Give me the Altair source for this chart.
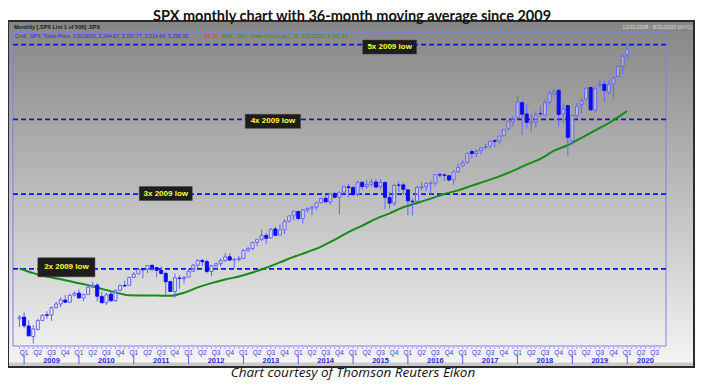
import altair as alt
import pandas as pd

# ---------------- data ----------------
opens = [888.61,
    902.99, 823.09, 729.57, 793.59, 872.74, 923.26, 920.82, 990.22, 1019.52, 1054.91, 1036.18, 1098.89,
    1116.56, 1073.89, 1105.36, 1171.23, 1188.58, 1087.30, 1031.10, 1107.53, 1049.72, 1143.49, 1185.71, 1186.60,
    1257.62, 1289.14, 1328.64, 1329.48, 1365.21, 1345.20, 1320.64, 1292.59, 1219.12, 1131.21, 1251.00, 1246.91,
    1258.86, 1312.45, 1365.90, 1408.47, 1397.86, 1309.87, 1362.33, 1379.32, 1406.54, 1440.90, 1412.20, 1416.18,
    1426.19, 1498.11, 1514.68, 1569.18, 1597.55, 1631.71, 1609.78, 1689.42, 1635.95, 1682.41, 1758.70, 1806.55,
    1845.86, 1782.68, 1857.68, 1873.96, 1884.39, 1923.87, 1962.29, 1929.80, 2004.07, 1971.44, 2018.21, 2065.78,
    2058.90, 1996.67, 2105.23, 2067.63, 2087.38, 2108.64, 2067.00, 2104.49, 1970.09, 1919.65, 2080.76, 2082.93,
    2038.20, 1936.94, 1937.09, 2056.62, 2067.17, 2093.94, 2099.34, 2173.15, 2171.33, 2164.33, 2128.68, 2200.17,
    2251.57, 2285.59, 2380.13, 2362.34, 2388.50, 2415.65, 2431.39, 2477.10, 2474.42, 2521.20, 2583.21, 2645.10,
    2683.73, 2816.45, 2715.22, 2633.45, 2642.96, 2718.70, 2704.95, 2821.17, 2896.96, 2926.29, 2717.58, 2790.50,
    2476.96, 2702.32, 2798.22, 2848.63, 2952.33, 2751.53, 2971.41, 2980.32, 2909.01, 2983.69, 3050.72, 3143.85,
    3244.67]
highs = [918.85,
    943.85, 875.01, 832.98, 888.70, 930.17, 956.23, 996.68, 1039.47, 1080.15, 1101.36, 1113.69, 1130.38,
    1150.45, 1112.42, 1180.69, 1219.80, 1205.13, 1131.23, 1120.95, 1129.24, 1148.90, 1196.14, 1227.08, 1262.60,
    1302.67, 1344.07, 1332.28, 1364.56, 1370.58, 1345.20, 1356.48, 1307.38, 1229.29, 1292.66, 1277.55, 1269.37,
    1333.47, 1378.04, 1419.15, 1422.38, 1415.32, 1363.46, 1391.74, 1426.68, 1474.51, 1470.96, 1434.27, 1448.00,
    1509.94, 1530.94, 1570.28, 1597.57, 1687.18, 1654.19, 1698.78, 1709.67, 1729.86, 1775.22, 1813.55, 1849.44,
    1850.84, 1867.92, 1883.97, 1897.28, 1924.03, 1968.17, 1991.39, 2005.04, 2019.26, 2018.19, 2075.76, 2093.55,
    2072.36, 2119.59, 2117.52, 2125.92, 2134.72, 2129.87, 2132.82, 2112.66, 2020.86, 2094.32, 2116.48, 2104.27,
    2038.20, 1962.96, 2072.21, 2111.05, 2103.48, 2120.55, 2177.09, 2193.81, 2187.87, 2169.60, 2214.10, 2277.53,
    2300.99, 2371.54, 2400.98, 2398.16, 2418.71, 2453.82, 2484.04, 2490.87, 2519.44, 2582.98, 2657.74, 2694.97,
    2872.87, 2835.96, 2801.90, 2717.49, 2742.24, 2791.47, 2848.03, 2916.50, 2940.91, 2939.86, 2815.15, 2800.18,
    2708.95, 2813.49, 2860.31, 2949.52, 2954.13, 2964.15, 3027.98, 3013.59, 3021.99, 3050.10, 3154.26, 3247.93,
    3337.77]
lows = [815.69,
    804.30, 734.52, 666.79, 783.32, 866.10, 888.86, 869.32, 978.51, 991.97, 1029.38, 1029.38, 1085.89,
    1071.59, 1044.50, 1105.36, 1170.69, 1040.78, 1028.33, 1010.91, 1039.70, 1039.70, 1131.87, 1173.00, 1186.60,
    1257.62, 1289.14, 1249.05, 1294.70, 1311.80, 1258.07, 1282.86, 1101.54, 1136.22, 1074.77, 1158.66, 1202.37,
    1258.86, 1312.45, 1340.03, 1357.38, 1291.98, 1266.74, 1325.41, 1354.65, 1396.56, 1403.28, 1343.35, 1398.11,
    1426.19, 1485.01, 1501.48, 1536.03, 1581.28, 1560.33, 1604.57, 1627.47, 1633.41, 1646.47, 1746.20, 1767.99,
    1770.45, 1737.92, 1834.44, 1814.36, 1859.79, 1915.98, 1930.67, 1904.78, 1964.04, 1820.66, 2001.01, 1972.56,
    1988.12, 1980.90, 2039.69, 2048.38, 2067.93, 2056.32, 2044.02, 1867.01, 1871.91, 1893.70, 2019.39, 1993.26,
    1812.29, 1810.10, 1937.09, 2033.80, 2025.91, 1991.68, 2074.02, 2147.58, 2119.12, 2114.72, 2083.79, 2187.44,
    2245.13, 2271.65, 2322.25, 2328.95, 2352.72, 2405.70, 2407.70, 2417.35, 2446.55, 2520.40, 2566.33, 2605.52,
    2682.36, 2532.69, 2585.89, 2553.80, 2594.62, 2691.99, 2698.95, 2796.34, 2864.12, 2603.54, 2631.09, 2346.58,
    2443.96, 2681.83, 2722.27, 2848.63, 2750.52, 2728.81, 2952.22, 2822.12, 2891.85, 2855.94, 3050.72, 3070.33,
    3214.64]
closes = [903.25,
    825.88, 735.09, 797.87, 872.81, 919.14, 919.32, 987.48, 1020.62, 1057.08, 1036.19, 1095.63, 1115.10,
    1073.87, 1104.49, 1169.43, 1186.69, 1089.41, 1030.71, 1101.60, 1049.33, 1141.20, 1183.26, 1180.55, 1257.64,
    1286.12, 1327.22, 1325.83, 1363.61, 1345.20, 1320.64, 1292.28, 1218.89, 1131.42, 1253.30, 1246.96, 1257.60,
    1312.41, 1365.68, 1408.47, 1397.91, 1310.33, 1362.16, 1379.32, 1406.58, 1440.67, 1412.16, 1416.18, 1426.19,
    1498.11, 1514.68, 1569.19, 1597.57, 1630.74, 1606.28, 1685.73, 1632.97, 1681.55, 1756.54, 1805.81, 1848.36,
    1782.59, 1859.45, 1872.34, 1883.95, 1923.57, 1960.23, 1930.67, 2003.37, 1972.29, 2018.05, 2067.56, 2058.90,
    1994.99, 2104.50, 2067.89, 2085.51, 2107.39, 2063.11, 2103.84, 1972.18, 1920.03, 2079.36, 2080.41, 2043.94,
    1940.24, 1932.23, 2059.74, 2065.30, 2096.95, 2098.86, 2173.60, 2170.95, 2168.27, 2126.15, 2198.81, 2238.83,
    2278.87, 2363.64, 2362.72, 2384.20, 2411.80, 2423.41, 2470.30, 2471.65, 2519.36, 2575.26, 2647.58, 2673.61,
    2823.81, 2713.83, 2640.87, 2648.05, 2705.27, 2718.37, 2816.29, 2901.52, 2913.98, 2711.74, 2760.17, 2506.85,
    2704.10, 2784.49, 2834.40, 2945.83, 2752.06, 2941.76, 2980.38, 2926.46, 2976.74, 3037.56, 3140.98, 3230.78,
    3296.35]

# 36-month SMA, read at quarter ends (month index: Jan 2009 = 0, first candle = Dec 2008 = -1)
ma_month_idx = [-1, 2, 5, 8, 11, 14, 17, 20, 23, 26, 29, 32, 35, 38, 41, 44, 47, 50, 53, 56, 59, 62,
                65, 68, 71, 74, 77, 80, 83, 86, 89, 92, 95, 98, 101, 104, 107, 110, 113, 116, 119, 122,
                125, 128, 131, 132]
ma_values = [1337, 1295, 1264, 1240, 1214, 1188, 1155, 1123, 1098, 1096, 1095, 1093, 1120, 1168, 1206,
             1238, 1266, 1301, 1343, 1391, 1440, 1484, 1532, 1595, 1662, 1719, 1780, 1829, 1883, 1921,
             1960, 2002, 2034, 2076, 2116, 2159, 2208, 2264, 2314, 2388, 2437, 2503, 2569, 2635, 2714, 2742]

low_2009 = 666.79
level_mult = [2, 3, 4, 5]
level_labels = ["2x 2009 low", "3x 2009 low", "4x 2009 low", "5x 2009 low"]
# label boxes (month index span, value span)
box_x0 = [3.0, 25.2, 48.4, 74.1]
box_x1 = [15.5, 36.8, 60.5, 85.9]
box_y0 = [1262, 1943, 2587, 3250]
box_y1 = [1432, 2068, 2713, 3375]

quarter_names = ["Q1", "Q2", "Q3", "Q4"]
years = list(range(2009, 2021))
y_ticks = list(range(800, 3401, 200))

# ---------------- frames ----------------
n = len(opens)
mi = [-1 + i for i in range(n)]
candles = pd.DataFrame({"m": mi, "o": opens, "h": highs, "l": lows, "c": closes})
candles["bl"] = candles[["o", "c"]].min(axis=1)
candles["bh"] = candles[["o", "c"]].max(axis=1)
candles["up"] = candles["c"] >= candles["o"]
bull = candles[candles["up"]]
bear = candles[~candles["up"]]

ma = pd.DataFrame({"m": ma_month_idx, "v": ma_values})
levels = pd.DataFrame({"v": [k * low_2009 for k in level_mult]})
boxes = pd.DataFrame({"x0": box_x0, "x1": box_x1, "y0": box_y0, "y1": box_y1, "t": level_labels})
boxes["xc"] = (boxes.x0 + boxes.x1) / 2
boxes["yc"] = (boxes.y0 + boxes.y1) / 2

qrows = []
for y in years:
    for q in range(4):
        m = (y - 2009) * 12 + q * 3
        if m <= 138:
            qrows.append({"m": m, "t": quarter_names[q]})
quarters = pd.DataFrame(qrows)
month_ticks = pd.DataFrame({"m": list(range(-1, 140))})
year_df = pd.DataFrame({"m": [(y - 2009) * 12 + 6 if y < 2020 else 136 for y in years],
                        "t": [str(y) for y in years]})
year_sep = pd.DataFrame({"m": [(y - 2009) * 12 for y in years]})
one = pd.DataFrame({"a": [0]})

# ---------------- layout ----------------
W, H = 653, 314
xs = alt.Scale(domain=[-1.34, 139.4], nice=False, zero=False)
ys = alt.Scale(domain=[645, 3447], nice=False, zero=False)

def X(f):
    return alt.X(f, type="quantitative", scale=xs, axis=None)

def Y(f, axis=None):
    return alt.Y(f, type="quantitative", scale=ys, axis=axis)

yaxis = alt.Axis(orient="right", values=y_ticks, format=",", labelColor="#2424ff",
                 labelFont="Liberation Sans", labelFontWeight="bold", labelFontSize=8.5,
                 tickColor="#6a6aff", tickSize=3, labelPadding=1, domain=False, grid=False,
                 title=None, zindex=1)

grad = alt.LinearGradient(gradient="linear",
                          stops=[alt.GradientStop(color="#858585", offset=0),
                                 alt.GradientStop(color="#f5f5f5", offset=1)],
                          x1=0, x2=0, y1=0, y2=1)

panel = alt.Chart(one).mark_rect(fill=grad, stroke="#2b2b2b", strokeWidth=2).encode(
    x=alt.value(-5), x2=alt.value(681), y=alt.value(-11), y2=alt.value(335))
strip = alt.Chart(one).mark_rect(fill="#cacaca").encode(
    x=alt.value(-4), x2=alt.value(680), y=alt.value(330.5), y2=alt.value(334))
frame = alt.Chart(one).mark_rect(fill="transparent", stroke="#7c7cff", strokeWidth=1).encode(
    x=alt.value(0), x2=alt.value(W), y=alt.value(0), y2=alt.value(H))

lvl = alt.Chart(levels).mark_rule(color="#1212e6", strokeWidth=1.7, strokeDash=[5, 3]).encode(y=Y("v"))
ma_line = alt.Chart(ma).mark_line(color="#138c13", strokeWidth=2, interpolate="monotone").encode(
    x=X("m"), y=Y("v"))

wick_lo = alt.Chart(candles).mark_rule(color="#6464ff", strokeWidth=1).encode(
    x=X("m"), y=Y("l", yaxis), y2="bl")
wick_hi = alt.Chart(candles).mark_rule(color="#6464ff", strokeWidth=1).encode(
    x=X("m"), y=Y("bh"), y2="h")
bull_body = alt.Chart(bull).mark_bar(size=3, fill="#ffffff", fillOpacity=0.3, stroke="#6464ff",
                                     strokeWidth=1).encode(x=X("m"), y=Y("bl"), y2="bh")
bear_body = alt.Chart(bear).mark_bar(size=3, fill="#0c0cf0", stroke="#0c0cf0",
                                     strokeWidth=1).encode(x=X("m"), y=Y("bl"), y2="bh")

box_rect = alt.Chart(boxes).mark_rect(fill="#1d1d1d", stroke="#444444", strokeWidth=0.5).encode(
    x=X("x0"), x2="x1", y=Y("y0"), y2="y1")
box_text = alt.Chart(boxes).mark_text(color="#ffff3a", font="Liberation Sans", fontWeight="bold",
                                      fontSize=8, align="center", baseline="middle").encode(
    x=X("xc"), y=Y("yc"), text="t")

q_text = alt.Chart(quarters).mark_text(color="#3a3ad6", font="Liberation Sans", fontSize=6.5,
                                       align="center", baseline="middle").encode(
    x=X("m"), y=alt.value(320.5), text="t")
m_ticks = alt.Chart(month_ticks).mark_rule(color="#8a8aff", strokeWidth=0.8).encode(
    x=X("m"), y=alt.value(H + 1), y2=alt.value(H + 3))
y_text = alt.Chart(year_df).mark_text(color="#2a2ad0", font="Liberation Sans", fontWeight="bold",
                                      fontSize=7.5, align="center", baseline="middle").encode(
    x=X("m"), y=alt.value(328.5), text="t")
y_sep = alt.Chart(year_sep).mark_rule(color="#5a5aff", strokeWidth=1).encode(
    x=X("m"), y=alt.value(323), y2=alt.value(332))

def label(txt, x, y, **kw):
    return alt.Chart(one).mark_text(text=txt, **kw).encode(x=alt.value(x), y=alt.value(y))

title = label("SPX monthly chart with 36-month moving average since 2009", 339, -11,
              font="Lato", fontWeight="bold", fontSize=14.5, color="#111111",
              align="center", baseline="alphabetic")
caption = label("Chart courtesy of Thomson Reuters Eikon", 340, 345, font="Open Sans",
                fontStyle="italic", fontSize=13.5, color="#111111", align="center",
                baseline="alphabetic")
hdr_l = label("Monthly [.SPX List 1 of 506] .SPX", 1, -5, font="Liberation Sans", fontWeight="bold",
              fontSize=5.5, color="#1a1a1a", align="left", baseline="middle")
hdr_r = label("12/31/2008 - 8/31/2020 (NYC)", 679, -5, font="Liberation Sans", fontSize=5.2,
              color="#dedede", align="right", baseline="middle")
leg_kw = dict(font="Liberation Sans", fontSize=5.2, align="left", baseline="middle")
leg1 = label("Cndl, .SPX, Trade Price, 1/31/2020, 3,244.67, 3,337.77, 3,214.64, 3,296.35,", 2, 4,
             color="#2b2bd0", **leg_kw)
leg2 = label("-29.19,", 190, 4, color="#ff2a2a", **leg_kw)
leg3 = label("SMA, .SPX, Trade Price(Last), 36, 1/31/2020, 2,742.12", 208, 4, color="#1a9a1a", **leg_kw)

chart = alt.layer(
    panel, strip, frame, lvl, ma_line, wick_lo, wick_hi, bull_body, bear_body,
    box_rect, box_text, m_ticks, q_text, y_text, y_sep,
    title, caption, hdr_l, hdr_r, leg1, leg2, leg3,
).properties(
    width=W, height=H,
    autosize=alt.AutoSizeParams(type="none"),
    padding={"left": 5, "top": 24, "right": 30, "bottom": 34},
    background="#ffffff",
).configure_view(stroke=None, fill=None)

chart.save("out.html", embed_options={"renderer": "svg", "actions": False})
